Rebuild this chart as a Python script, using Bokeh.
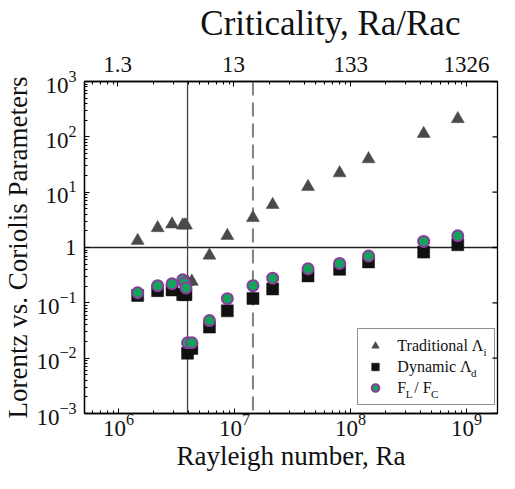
import numpy as np
from bokeh.plotting import figure
from bokeh.core.properties import value
from bokeh.models import (Range1d, LogAxis, LogScale, FixedTicker, Span,
                          Legend, LegendItem, CustomJSTickFormatter, ColumnDataSource)
from bokeh.embed import file_html
from bokeh.resources import INLINE

# ---------------- data ----------------
ra = [1.46e6, 2.17e6, 2.89e6, 3.57e6, 3.70e6, 3.81e6, 3.93e6, 4.28e6,
      6.07e6, 8.66e6, 1.44e7, 2.13e7, 4.30e7, 8.05e7, 1.43e8, 4.27e8, 8.41e8]
traditional = [1.33, 2.26, 2.63, 2.52, 2.52, 2.52, 0.24, 0.243,
               0.72, 1.63, 3.44, 5.93, 12.5, 22.1, 39.7, 114, 211]
dynamic = [0.136, 0.166, 0.171, 0.141, 0.141, 0.141, 0.0123, 0.0150,
           0.0364, 0.0716, 0.120, 0.178, 0.307, 0.403, 0.549, 0.826, 1.12]
force_ratio = [0.152, 0.204, 0.221, 0.261, 0.228, 0.186, 0.0190, 0.0190,
               0.0477, 0.119, 0.204, 0.279, 0.413, 0.515, 0.702, 1.29, 1.63]

ra_c = 7.54e5                       # critical Rayleigh number
crit_ticks = [1.3, 13, 133, 1326]   # top-axis tick labels (Ra/Ra_c)
ra_onset = 3.93e6                   # solid vertical line
ra_dashed = 1.44e7                  # dashed vertical line
unity = 1.0                         # horizontal line
x_lo, x_hi = 5.08e5, 1.85e9
y_lo, y_hi = 1e-3, 1e3

labels_series = ["Traditional \u039b ", "Dynamic \u039b", "F  / F"]
legend_subs = ["i", "d", "L", "C"]
top_title = "\u00a0" * 9 + "Criticality, Ra/Rac"

FONT = "Liberation Serif"

# ---------------- layout constants ----------------
W_FIG, H_FIG = 499, 473
B_LEFT, B_RIGHT, B_TOP, B_BOTTOM = 84, 2, 80, 56
FRAME_W = W_FIG - B_LEFT - B_RIGHT

p = figure(width=W_FIG, height=H_FIG, x_axis_type="log", y_axis_type="log",
           x_range=Range1d(x_lo, x_hi), y_range=Range1d(y_lo, y_hi),
           output_backend="svg", toolbar_location=None,
           min_border_left=B_LEFT, min_border_right=B_RIGHT,
           min_border_top=B_TOP, min_border_bottom=B_BOTTOM)
p.xgrid.visible = False
p.ygrid.visible = False
p.outline_line_color = "black"
p.outline_line_width = 1.3
p.background_fill_color = "white"
p.border_fill_color = "white"

x_major = [10.0 ** e for e in range(5, 10)]
x_minor = [k * 10.0 ** e for e in range(5, 10) for k in range(2, 10)]
y_major = [10.0 ** e for e in range(-3, 4)]
y_minor = [k * 10.0 ** e for e in range(-3, 3) for k in range(2, 10)]


def style_axis(ax, size="23px"):
    ax.axis_line_color = "black"
    ax.axis_line_width = 1.3
    ax.major_tick_line_color = "black"
    ax.minor_tick_line_color = "black"
    ax.major_tick_in = 5
    ax.major_tick_out = 0
    ax.minor_tick_in = 3
    ax.minor_tick_out = 0
    ax.major_label_text_font = FONT
    ax.major_label_text_font_size = size
    ax.major_label_text_color = "#111111"
    ax.axis_label_text_font = FONT
    ax.axis_label_text_font_style = "normal"
    ax.axis_label_text_font_size = "27px"
    ax.axis_label_text_color = "#111111"


xa = p.xaxis[0]
xa.ticker = FixedTicker(ticks=x_major, minor_ticks=x_minor)
style_axis(xa)
xa.axis_label = "Rayleigh number, Ra"
xa.major_label_standoff = 0
xa.axis_label_standoff = 2

ya = p.yaxis[0]
ya.ticker = FixedTicker(ticks=y_major, minor_ticks=y_minor)
style_axis(ya)
ya.axis_label = "Lorentz vs. Coriolis Parameters"
ya.major_label_overrides = {1: "1"}
ya.major_label_standoff = 8
ya.axis_label_standoff = 0

# top criticality axis
p.extra_x_ranges = {"crit": Range1d(x_lo / ra_c, x_hi / ra_c)}
p.extra_x_scales = {"crit": LogScale()}
top = LogAxis(x_range_name="crit",
              ticker=FixedTicker(ticks=crit_ticks,
                                 minor_ticks=[m / ra_c for m in x_minor]),
              formatter=CustomJSTickFormatter(code="return tick.toString();"))
style_axis(top, "23px")
top.major_label_standoff = 10
top.axis_label = top_title
top.axis_label_text_font_size = "35px"
top.axis_label_standoff = 11
p.add_layout(top, "above")

# inward major ticks on the right frame edge (half of each dash is clipped by the frame)
p.scatter(x=[x_hi] * len(y_major), y=y_major, marker="dash", size=10,
          line_color="black", line_width=1.3)

# reference lines
p.add_layout(Span(location=unity, dimension="width", line_color="#222222",
                  line_width=1.3, level="underlay"))
p.add_layout(Span(location=ra_onset, dimension="height", line_color="#444444",
                  line_width=1.3, level="underlay"))
p.add_layout(Span(location=ra_dashed, dimension="height", line_color="#808080",
                  line_width=2, line_dash="14 7", level="underlay"))

src = ColumnDataSource(dict(ra=ra, trad=traditional, dyn=dynamic, fr=force_ratio))
r_tri = p.scatter("ra", "trad", source=src, marker="triangle", size=13,
                  fill_color="#4a4a4a", line_color="#4a4a4a", line_width=0.5)
r_sq = p.scatter("ra", "dyn", source=src, marker="square", size=12,
                 fill_color="#111111", line_color="#111111", line_width=0.5)
r_ci = p.scatter("ra", "fr", source=src, marker="circle", size=11,
                 fill_color="#12a45a", line_color="#8a3d9c", line_width=2)

# legend
PAD, GW, STAND, LH, SP, LFS = 7, 20, 12, 19, 2, 16
leg_w = 2 * PAD + GW + STAND + 5.666 * LFS
leg_x = FRAME_W - 3 - leg_w
leg_y = 8
legend = Legend(items=[LegendItem(label=labels_series[0], renderers=[r_tri]),
                       LegendItem(label=labels_series[1], renderers=[r_sq]),
                       LegendItem(label=labels_series[2], renderers=[r_ci])],
                location=(leg_x, leg_y), orientation="vertical")
legend.border_line_color = "#222222"
legend.border_line_width = 1
legend.background_fill_alpha = 0
legend.label_text_font = FONT
legend.label_text_font_size = f"{LFS}px"
legend.label_text_color = "#111111"
legend.padding = PAD
legend.spacing = SP
legend.label_height = LH
legend.glyph_height = LH
legend.glyph_width = GW
legend.label_standoff = STAND
legend.margin = 0
p.add_layout(legend, "center")

# legend subscripts: anchored at the frame's lower-left corner, shifted in pixels
tx0 = leg_x + PAD + GW + STAND
row_c = [leg_y + PAD + (2 - k) * (LH + SP) + LH / 2 for k in range(3)]
sub_dx = [tx0 + 5.416 * LFS, tx0 + 4.638 * LFS, tx0 + 0.556 * LFS, tx0 + 2.14 * LFS]
sub_dy = [-(row_c[0] - 5), -(row_c[1] - 5), -(row_c[2] - 5), -(row_c[2] - 5)]
p.text(x=[x_lo] * 4, y=[y_lo] * 4, text=legend_subs, x_offset=sub_dx, y_offset=sub_dy,
       text_font=value(FONT), text_font_size="11px", text_color="#111111",
       text_baseline="middle", text_align="left")

open("out.html", "w").write(file_html(p, INLINE))
